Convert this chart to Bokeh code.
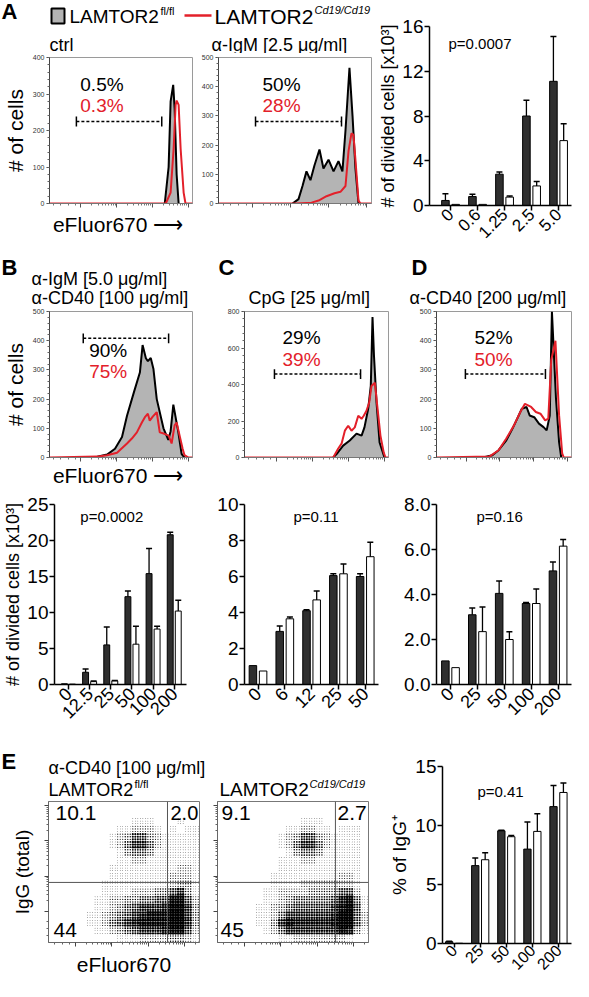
import math
import numpy as np
from bokeh.plotting import figure
from bokeh.layouts import row, column
from bokeh.models import Range1d, Label, FixedTicker, SingleIntervalTicker, Span
from bokeh.embed import file_html
from bokeh.resources import INLINE

FONT = "Liberation Sans"
RED = "#e3202a"
FILL = "#b4b4b4"
BARK = "#2f2f2f"
O = 4  # reference-pixel offset of the canvas

# ======================= DATA =======================
wt_name, wt_sup = "LAMTOR2", "fl/fl"
ko_name, ko_sup = "LAMTOR2", "Cd19/Cd19"

# Histograms: x = eFluor670 channel (0-100 over the plotted range), y = # of cells
hA1_wt_x = [80.6, 83.3, 84.7, 86.5, 87.5, 88.9, 90.3]
hA1_wt_y = [0, 100, 280, 325, 260, 80, 0]
hA1_ko_x = [0, 81.3, 84.7, 86.8, 88.2, 88.9, 90.3, 91.7, 93.8, 95.1, 100]
hA1_ko_y = [0, 0, 30, 150, 270, 282, 270, 150, 30, 0, 0]
hA1_gate = [18.8, 78.5, 225]
hA1_pct = ["0.5%", "0.3%"]

hA2_wt_x = [48.4, 52.3, 54.9, 57.5, 60.1, 62.7, 66.0, 68.6, 71.9, 75.2, 78.4, 81.0, 83.0, 85.6, 87.6, 89.5, 91.5]
hA2_wt_y = [0, 15, 60, 110, 80, 130, 185, 120, 150, 110, 145, 110, 250, 465, 300, 120, 0]
hA2_ko_x = [0, 51.0, 60.8, 65.4, 70.6, 75.8, 79.7, 83.0, 85.0, 86.9, 88.2, 89.5, 91.5, 92.8, 100]
hA2_ko_y = [0, 0, 3, 10, 25, 35, 40, 60, 180, 240, 235, 150, 10, 0, 0]
hA2_gate = [24.2, 80.4, 281]
hA2_pct = ["50%", "28%"]

hB_wt_x = [26.4, 33.3, 40.3, 45.8, 50.7, 54.2, 59.0, 63.2, 65.1, 67.4, 68.8, 70.8, 72.7, 75.0, 79.7, 83.1, 84.7, 86.6, 90.1, 92.4, 94.4]
hB_wt_y = [0, 3, 10, 30, 70, 143, 223, 291, 385, 340, 330, 341, 303, 200, 100, 60, 90, 181, 86, 12, 0]
hB_ko_x = [0, 33.3, 40.3, 47.2, 54.2, 57.6, 61.1, 64.6, 66.7, 68.8, 70.1, 72.2, 75.0, 77.1, 79.9, 83.3, 85.4, 87.5, 88.9, 91.0, 93.1, 94.4, 97.2, 100]
hB_ko_y = [0, 3, 8, 16, 48, 65, 86, 120, 138, 150, 126, 140, 155, 86, 82, 75, 48, 110, 120, 75, 30, 8, 0, 0]
hB_gate = [23.6, 83.3, 408]
hB_pct = ["90%", "75%"]

hC_wt_x = [61.6, 64.6, 68.5, 73.1, 77.8, 81.3, 83.3, 85.9, 87.7, 88.9, 89.9, 91.7, 93.8, 97.2]
hC_wt_y = [0, 25, 65, 93, 131, 120, 165, 267, 392, 770, 560, 300, 82, 0]
hC_ko_x = [0, 61.6, 65.1, 67.4, 69.7, 72.0, 74.3, 76.6, 79.0, 81.3, 82.8, 84.7, 86.6, 88.2, 90.5, 92.2, 94.4, 96.7, 97.9, 100]
hC_ko_y = [0, 0, 49, 76, 147, 174, 147, 165, 229, 212, 229, 256, 301, 392, 410, 283, 120, 27, 0, 0]
hC_gate = [20.8, 80.6, 457]
hC_pct = ["29%", "39%"]

hD_wt_x = [34.5, 41.4, 46.0, 51.7, 56.3, 59.8, 63.2, 66.7, 69.0, 72.4, 75.9, 79.3, 81.6, 83.9, 85.5, 88.5, 90.8, 92.4]
hD_wt_y = [0, 8, 25, 59, 99, 133, 167, 173, 144, 138, 116, 104, 93, 144, 500, 202, 53, 0]
hD_ko_x = [0, 39.1, 46.0, 51.7, 57.4, 62.1, 65.5, 70.1, 73.6, 77.0, 80.5, 82.8, 85.0, 88.1, 90.8, 93.1, 94.3, 100]
hD_ko_y = [0, 3, 25, 65, 110, 156, 184, 173, 156, 150, 127, 133, 334, 400, 145, 14, 0, 0]
hD_gate = [21.4, 80.7, 286]
hD_pct = ["52%", "50%"]

# Bar charts: mean and SD (upper error only)
bA_cats = ["0", "0.6", "1.25", "2.5", "5.0"]
bA_wt = [0.45, 0.8, 2.8, 8.0, 11.1]
bA_wt_sd = [0.6, 0.2, 0.2, 1.4, 4.0]
bA_ko = [0.1, 0.1, 0.75, 1.75, 5.8]
bA_ko_sd = [0.0, 0.0, 0.1, 0.4, 1.5]
bA_p = "p=0.0007"

bB_cats = ["0", "12.5", "25", "50", "100", "200"]
bB_wt = [0.1, 1.7, 5.5, 12.2, 15.4, 20.8]
bB_wt_sd = [0.0, 0.45, 2.5, 0.8, 3.5, 0.35]
bB_ko = [0.05, 0.4, 0.5, 5.6, 7.7, 10.2]
bB_ko_sd = [0.0, 0.1, 0.05, 2.5, 0.4, 1.5]
bB_p = "p=0.0002"

bC_cats = ["0", "6", "12", "25", "50"]
bC_wt = [1.05, 2.95, 4.1, 6.05, 6.0]
bC_wt_sd = [0.0, 0.3, 0.05, 0.1, 0.15]
bC_ko = [0.75, 3.65, 4.7, 6.15, 7.1]
bC_ko_sd = [0.0, 0.1, 0.5, 0.55, 0.8]
bC_p = "p=0.11"

bD_cats = ["0", "25", "50", "100", "200"]
bD_wt = [1.05, 3.1, 4.05, 3.6, 5.05]
bD_wt_sd = [0.0, 0.3, 0.55, 0.05, 0.4]
bD_ko = [0.75, 2.35, 2.0, 3.6, 6.15]
bD_ko_sd = [0.0, 1.1, 0.35, 0.65, 0.3]
bD_p = "p=0.16"

bE_cats = ["0", "25", "50", "100", "200"]
bE_wt = [0.15, 6.6, 9.55, 8.0, 11.6]
bE_wt_sd = [0.05, 0.65, 0.05, 2.3, 1.8]
bE_ko = [0.02, 7.1, 9.05, 9.5, 12.8]
bE_ko_sd = [0.0, 0.6, 0.1, 1.5, 0.8]
bE_p = "p=0.41"

# Dot plots (IgG vs eFluor670): event density on a 20 x 18 grid (0-9), top row first
sE_wt_density = [
    "00000000000000000000",
    "00000000000000000000",
    "00000000000111000100",
    "00000000011222101011",
    "00000000123553211111",
    "00000000124664211111",
    "00000000013443111111",
    "00000000011221111111",
    "00000000111111111221",
    "00000000111111112221",
    "00000001111111112331",
    "00000001111222335631",
    "00000011223344558852",
    "00000011234566679963",
    "00000112345678889963",
    "00000112456788889963",
    "00000011234566678852",
    "00000000011122223321",
]
sE_ko_density = [
    "00000000000000000000",
    "00000000000000000000",
    "00000000000111000000",
    "00000000011221101110",
    "00000000123553211110",
    "00000000124664211110",
    "00000000013443111110",
    "00000000111221111110",
    "00000000111111111110",
    "00000001111111112210",
    "00000001111222222210",
    "00000011222233335520",
    "00000011234444457841",
    "00000112345555568951",
    "00000112466666679952",
    "00000113687777789952",
    "00000012466666668731",
    "00000000112222222100",
]
sE_wt_gate = [78.8, 42.6]
sE_ko_gate = [78.1, 42.6]
sE_wt_quad = ["10.1", "2.0", "44"]
sE_ko_quad = ["9.1", "2.7", "45"]

# ======================= HELPERS =======================
GEOM = {}


def make(ox, oy, w, h, bl, br, bt, bb, xr, yr, axes=True):
    kw = {}
    if not axes:
        kw = dict(x_axis_location=None, y_axis_location=None)
    p = figure(width=w, height=h, x_range=Range1d(*xr), y_range=Range1d(*yr),
               output_backend="svg", toolbar_location=None,
               min_border_left=bl, min_border_right=br,
               min_border_top=bt, min_border_bottom=bb, **kw)
    p.xgrid.visible = False
    p.ygrid.visible = False
    p.outline_line_color = None
    p.background_fill_color = "white"
    p.border_fill_color = "white"
    GEOM[id(p)] = (ox + bl + O, oy + bt + O, w - bl - br, h - bt - bb)
    return p


def dxy(p, X, Y):
    fl, ft, fw, fh = GEOM[id(p)]
    xr, yr = p.x_range, p.y_range
    x = xr.start + (X - fl) / fw * (xr.end - xr.start)
    y = yr.end - (Y - ft) / fh * (yr.end - yr.start)
    return x, y


def put(p, X, Y, text, size, color="black", align="left", style="normal"):
    x, y = dxy(p, X, Y)
    p.add_layout(Label(x=x, y=y, text=text, text_font=FONT, text_font_size=f"{size}px",
                       text_color=color, text_align=align, text_baseline="middle",
                       text_font_style=style))


def hide_labels(ax):
    ax.major_label_text_font_size = "1px"
    ax.major_label_text_color = None
    ax.major_label_standoff = 0


def axis_label(ax, text, size, standoff):
    ax.axis_label = text
    ax.axis_label_text_font = FONT
    ax.axis_label_text_font_size = f"{size}px"
    ax.axis_label_text_font_style = "normal"
    ax.axis_label_text_color = "black"
    ax.axis_label_standoff = standoff


def log_ticks(starts, span, lo=0, hi=100):
    minors = []
    for d in starts:
        for k in range(2, 10):
            v = d + span * math.log10(k)
            if lo < v < hi:
                minors.append(v)
    return minors


def hist(ox, oy, w, h, bl, br, bt, bb, ymax, ystep, wx, wy, kx, ky, gate, pct, pct_xy):
    p = make(ox, oy, w, h, bl, br, bt, bb, (0, 100), (0, ymax))
    p.varea(x=wx, y1=0, y2=wy, fill_color=FILL)
    p.line(wx, wy, line_color="black", line_width=2)
    p.line(kx, ky, line_color=RED, line_width=2)
    fl, ft, fw, fh = GEOM[id(p)]
    g0, g1, gy = gate
    cap = 5 * ymax / fh
    p.segment(x0=[g0], y0=[gy], x1=[g1], y1=[gy], line_color="black",
              line_width=1.5, line_dash="3 2")
    p.segment(x0=[g0, g1], y0=[gy - cap] * 2, x1=[g0, g1], y1=[gy + cap] * 2,
              line_color="black", line_width=1.5)
    (X, Y0, Y1) = pct_xy
    put(p, X, Y0, pct[0], 19)
    put(p, X, Y1, pct[1], 19, color=RED)
    p.outline_line_color = "#9a9a9a"
    dec = [22, 47, 72, 97]
    p.xaxis.ticker = FixedTicker(ticks=dec, minor_ticks=[3, 8, 13, 18] + log_ticks(dec, 25))
    hide_labels(p.xaxis)
    p.xaxis.major_tick_out = 4
    p.xaxis.major_tick_in = 0
    p.xaxis.minor_tick_out = 2
    p.xaxis.minor_tick_in = 0
    p.xaxis.axis_line_color = "#777"
    p.xaxis.major_tick_line_color = "#555"
    p.xaxis.minor_tick_line_color = "#777"
    p.yaxis.ticker = SingleIntervalTicker(interval=ystep, num_minor_ticks=5)
    p.yaxis.major_label_text_font_size = "7px"
    p.yaxis.major_label_text_font = FONT
    p.yaxis.major_label_text_color = "#333"
    p.yaxis.major_label_standoff = 2
    p.yaxis.major_tick_out = 3
    p.yaxis.major_tick_in = 0
    p.yaxis.minor_tick_out = 2
    p.yaxis.minor_tick_in = 0
    p.yaxis.axis_line_color = "#444"
    p.yaxis.major_tick_line_color = "#444"
    p.yaxis.minor_tick_line_color = "#666"
    return p


def bars(ox, oy, w, h, bl, br, bt, bb, xr, ymax, yticks, cats, wt, wt_sd, ko, ko_sd,
         yfmt=None, xfont=18):
    p = make(ox, oy, w, h, bl, br, bt, bb, xr, (0, ymax))
    x = np.arange(len(cats))
    off, bw = 0.19, 0.28
    p.vbar(x=x - off, top=wt, width=bw, bottom=0, fill_color=BARK,
           line_color="black", line_width=1)
    p.vbar(x=x + off, top=ko, width=bw, bottom=0, fill_color="white",
           line_color="black", line_width=1)
    for o, top, sd in ((-off, wt, wt_sd), (off, ko, ko_sd)):
        top = np.asarray(top, float)
        sd = np.asarray(sd, float)
        m = sd > 0
        xx = (x + o)[m]
        p.segment(x0=xx, y0=top[m], x1=xx, y1=(top + sd)[m], line_color="black", line_width=1.3)
        p.scatter(x=xx, y=(top + sd)[m], marker="dash", size=6, line_color="black", line_width=1.5)
    p.xaxis.ticker = FixedTicker(ticks=[int(i) for i in x])
    p.xaxis.major_label_overrides = {int(i): c for i, c in enumerate(cats)}
    p.xaxis.major_label_orientation = math.pi / 4
    p.xaxis.major_label_text_font_size = f"{xfont}px"
    p.xaxis.major_label_standoff = 1
    p.xaxis.major_tick_out = 5
    p.xaxis.major_tick_in = 0
    p.yaxis.ticker = FixedTicker(ticks=yticks)
    if yfmt:
        p.yaxis.major_label_overrides = {t: yfmt.format(t) for t in yticks}
    p.yaxis.major_label_text_font_size = "19px"
    p.yaxis.major_label_standoff = 1
    p.yaxis.major_tick_out = 5
    p.yaxis.major_tick_in = 0
    for ax in (p.xaxis, p.yaxis):
        ax.minor_tick_out = 0
        ax.minor_tick_in = 0
        ax.major_label_text_font = FONT
        ax.major_label_text_color = "black"
        ax.axis_line_width = 1.5
        ax.major_tick_line_width = 1.5
        ax.axis_line_color = "black"
    return p


def scatter_panel(ox, oy, w, h, bl, br, bt, bb, density, gate, quad, quad_xy):
    p = make(ox, oy, w, h, bl, br, bt, bb, (0, 100), (0, 100))
    fl, ft, fw, fh = GEOM[id(p)]
    nr, nc = len(density), len(density[0])
    cw, rh = 100 / nc, 100 / nr
    xs, ys, sz = [], [], []
    sub = (-1 / 3, 0.0, 1 / 3)
    pitch = min(fw / nc, fh / nr) / 3
    for r, line in enumerate(density):
        for c, ch in enumerate(line):
            d = int(ch)
            if d == 0:
                continue
            for sx in sub:
                for sy in sub:
                    xs.append((c + 0.5 + sx) * cw)
                    ys.append(100 - (r + 0.5 + sy) * rh)
                    sz.append(0.2 + 1.2 * pitch * (d / 9) ** 0.8)
    p.scatter(x=xs, y=ys, size=sz, marker="circle", fill_color="black", line_color=None)
    p.add_layout(Span(location=gate[0], dimension="height", line_color="#555", line_width=1))
    p.add_layout(Span(location=gate[1], dimension="width", line_color="#555", line_width=1))
    for (txt, (X, Y, s)) in zip(quad, quad_xy):
        put(p, X, Y, txt, s)
    p.outline_line_color = "#777"
    xd = [18, 42, 66, 90]
    yd = [22, 47, 72, 97]
    p.xaxis.ticker = FixedTicker(ticks=xd, minor_ticks=[4, 9, 14] + log_ticks(xd, 24))
    p.yaxis.ticker = FixedTicker(ticks=yd, minor_ticks=[5, 10, 15] + log_ticks(yd, 25))
    for ax in (p.xaxis, p.yaxis):
        hide_labels(ax)
        ax.major_tick_out = 4
        ax.major_tick_in = 0
        ax.minor_tick_out = 2
        ax.minor_tick_in = 0
        ax.axis_line_color = "#666"
        ax.major_tick_line_color = "#444"
        ax.minor_tick_line_color = "#666"
    return p


ARROW = "eFluor670  \u27f6"
MU = "\u03bc"
ALPHA = "\u03b1"

# ======================= SECTION 1 (A) =======================
stripA = make(0, 0, 375, 53, 0, 0, 0, 0, (0, 375), (0, 53), axes=False)
put(stripA, 5, 15, "A", 22, style="bold")
bx, by = dxy(stripA, 61.5, 19.5)
stripA.rect(x=[bx], y=[by], width=13, height=15, fill_color=FILL, line_color="black", line_width=2)
lx0, ly = dxy(stripA, 188, 19)
lx1, _ = dxy(stripA, 215, 19)
stripA.line([lx0, lx1], [ly, ly], line_color=RED, line_width=2.5)
put(stripA, 73, 20, wt_name, 19)
put(stripA, 164, 14, wt_sup, 11)
put(stripA, 218, 20, ko_name, 21)
put(stripA, 318, 13, ko_sup, 11, style="italic")
put(stripA, 53, 48, "ctrl", 18)
put(stripA, 215, 48, f"{ALPHA}-IgM [2.5 {MU}g/ml]", 18)

hA1 = hist(0, 53, 194, 196, 48, 2, 4, 46, 400, 100, hA1_wt_x, hA1_wt_y, hA1_ko_x, hA1_ko_y,
           hA1_gate, hA1_pct, (83, 88, 109))
axis_label(hA1.yaxis, "# of cells", 21, 3)
axis_label(hA1.xaxis, ARROW, 21, 5)

hA2 = hist(194, 53, 181, 196, 24, 4, 4, 46, 500, 100, hA2_wt_x, hA2_wt_y, hA2_ko_x, hA2_ko_y,
           hA2_gate, hA2_pct, (266, 88, 109))

bA = bars(375, 0, 198, 249, 54, 2, 26, 44, (-0.78, 4.48), 16, [0, 4, 8, 12, 16],
          bA_cats, bA_wt, bA_wt_sd, bA_ko, bA_ko_sd, xfont=17)
put(bA, 452, 47, bA_p, 15)
axis_label(bA.yaxis, "# of divided cells [x10\u00b3]", 18, 1)

sec1 = row(column(stripA, row(hA1, hA2)), bA)

# ======================= SECTION 2 (B, C, D histograms) =======================
stripB = make(0, 249, 573, 59, 0, 0, 0, 0, (0, 573), (0, 59), axes=False)
put(stripB, 5, 271, "B", 22, style="bold")
put(stripB, 35, 282, f"{ALPHA}-IgM [5.0 {MU}g/ml]", 18)
put(stripB, 35, 301, f"{ALPHA}-CD40 [100 {MU}g/ml]", 18)
put(stripB, 222, 271, "C", 22, style="bold")
put(stripB, 252, 301, f"CpG [25 {MU}g/ml]", 18)
put(stripB, 415, 271, "D", 22, style="bold")
put(stripB, 413, 301, f"{ALPHA}-CD40 [200 {MU}g/ml]", 18)

hB = hist(0, 308, 200, 181, 48, 8, 3, 31, 500, 100, hB_wt_x, hB_wt_y, hB_ko_x, hB_ko_y,
          hB_gate, hB_pct, (92, 354, 375))
axis_label(hB.yaxis, "# of cells", 21, 3)
axis_label(hB.xaxis, ARROW, 21, 2)
hC = hist(200, 308, 192, 181, 44, 4, 3, 31, 800, 200, hC_wt_x, hC_wt_y, hC_ko_x, hC_ko_y,
          hC_gate, hC_pct, (286, 341, 363))
hD = hist(392, 308, 181, 181, 44, 2, 3, 31, 500, 100, hD_wt_x, hD_wt_y, hD_ko_x, hD_ko_y,
          hD_gate, hD_pct, (478, 341, 363))

sec2 = column(stripB, row(hB, hC, hD))

# ======================= SECTION 3 (bar charts B, C, D) =======================
bB = bars(0, 489, 200, 257, 48, 14, 15, 62, (-0.66, 5.58), 25, [0, 5, 10, 15, 20, 25],
          bB_cats, bB_wt, bB_wt_sd, bB_ko, bB_ko_sd)
put(bB, 79, 520, bB_p, 15)
axis_label(bB.yaxis, "# of divided cells [x10\u00b3]", 18, 1)

bC = bars(200, 489, 192, 257, 44, 14, 15, 62, (-0.504, 4.496), 10, [0, 2, 4, 6, 8, 10],
          bC_cats, bC_wt, bC_wt_sd, bC_ko, bC_ko_sd)
put(bC, 297, 520, bC_p, 15)

bD = bars(392, 489, 181, 257, 44, 2, 15, 62, (-0.52, 4.50), 8, [0, 2, 4, 6, 8],
          bD_cats, bD_wt, bD_wt_sd, bD_ko, bD_ko_sd, yfmt="{:.1f}")
put(bD, 480, 520, bD_p, 15)

sec3 = row(bB, bC, bD)

# ======================= SECTION 4 (E) =======================
stripE = make(0, 746, 386, 53, 0, 0, 0, 0, (0, 386), (0, 53), axes=False)
put(stripE, 5, 765, "E", 22, style="bold")
put(stripE, 52, 771, f"{ALPHA}-CD40 [100 {MU}g/ml]", 18)
put(stripE, 52, 793, wt_name, 18)
put(stripE, 138, 787, wt_sup, 11)
put(stripE, 223, 793, ko_name, 19)
put(stripE, 313, 787, ko_sup, 11, style="italic")

sW = scatter_panel(0, 799, 205, 182, 48, 6, 2, 39, sE_wt_density, sE_wt_gate,
                   sE_wt_quad, [(59, 816, 21), (174, 816, 20), (57, 933, 21)])
axis_label(sW.yaxis, "IgG (total)", 19, 12)
axis_label(sW.xaxis, "eFluor670", 21, 6)

sK = scatter_panel(205, 799, 181, 182, 12, 18, 2, 39, sE_ko_density, sE_ko_gate,
                   sE_ko_quad, [(225, 816, 21), (341, 816, 21), (224, 933, 21)])

bE = bars(386, 746, 187, 235, 52, 2, 20, 38, (-0.446, 4.50), 15, [0, 5, 10, 15],
          bE_cats, bE_wt, bE_wt_sd, bE_ko, bE_ko_sd, xfont=16)
bE.xaxis.major_tick_out = 4
bE.xaxis.major_label_standoff = 0
put(bE, 478, 795, bE_p, 15)
axis_label(bE.yaxis, "% of IgG\u207a", 19, 2)

sec4 = row(column(stripE, row(sW, sK)), bE)

layout = column(sec1, sec2, sec3, sec4)

with open("out.html", "w") as f:
    f.write(file_html(layout, INLINE))
